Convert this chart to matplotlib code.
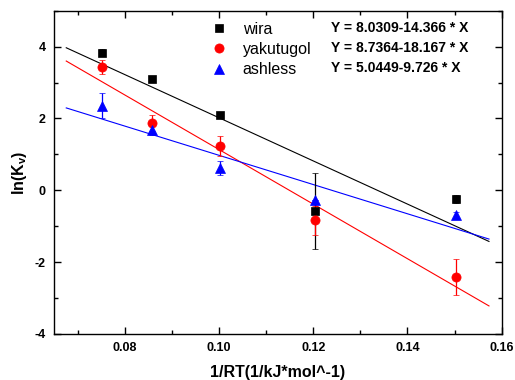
import matplotlib
matplotlib.use("Agg")
import matplotlib.pyplot as plt
from matplotlib.ticker import MultipleLocator
import numpy as np

plt.rcParams['font.family'] = ['Liberation Sans', 'DejaVu Sans']

# data
x_vals = [0.0752, 0.0859, 0.1002, 0.1203, 0.1503]
series_names = ["wira", "yakutugol", "ashless"]
wira_y = [3.83, 3.09, 2.09, -0.57, -0.24]
wira_err = [0.10, 0.0, 0.0, 1.05, 0.12]
yaku_y = [3.43, 1.87, 1.23, -0.84, -2.42]
yaku_err = [0.19, 0.22, 0.27, 0.41, 0.50]
ash_y = [2.36, 1.67, 0.62, -0.26, -0.69]
ash_err = [0.35, 0.13, 0.19, 0.0, 0.08]
fit_intercepts = [8.0309, 8.7364, 5.0449]
fit_slopes = [-60.1, -76.0, -40.7]
fit_x_range = [0.0676, 0.1573]
equations = ["Y = 8.0309-14.366 * X", "Y = 8.7364-18.167 * X", "Y = 5.0449-9.726 * X"]

colors = ["black", "red", "blue"]
markers = ["s", "o", "^"]
msizes = [5.8, 6.6, 6.8]

fig = plt.figure(figsize=(5.15, 3.8), dpi=100)
ax = fig.add_axes([54/515, 46/380, 447.7/515, 323.3/380])

ys = [wira_y, yaku_y, ash_y]
errs = [wira_err, yaku_err, ash_err]
handles = []
xf = np.array(fit_x_range)
for i in range(3):
    ax.plot(xf, fit_intercepts[i] + fit_slopes[i] * xf, color=colors[i], lw=0.8, zorder=2)
for i in range(3):
    h = ax.errorbar(x_vals, ys[i], yerr=errs[i], fmt=markers[i], color=colors[i],
                    ms=msizes[i], mec=colors[i], mew=0.5, ecolor=colors[i], elinewidth=0.9,
                    capsize=2.2, capthick=0.9, zorder=3, label=series_names[i])
    handles.append(h)

ax.set_xlim(0.065, 0.16)
ax.set_ylim(-4, 5)
ax.xaxis.set_minor_locator(MultipleLocator(0.01))
ax.yaxis.set_minor_locator(MultipleLocator(1))
ax.set_xticks([0.08, 0.10, 0.12, 0.14, 0.16])
ax.set_xticklabels(["0.08", "0.10", "0.12", "0.14", "0.16"])
ax.set_yticks([-4, -2, 0, 2, 4])
ax.set_yticklabels(["-4", "-2", "0", "2", "4"])
ax.tick_params(which='both', direction='in', top=True, right=True, width=1.0)
ax.tick_params(which='major', length=5, labelsize=9, pad=6)
ax.tick_params(which='minor', length=3)
for lab in ax.get_xticklabels() + ax.get_yticklabels():
    lab.set_fontweight('bold')
for s in ax.spines.values():
    s.set_linewidth(1.0)

ax.set_xlabel("1/RT(1/kJ*mol^-1)", fontsize=11.5, fontweight='bold', labelpad=8)
ax.set_ylabel(r"ln(K$_\mathregular{v}$)", fontsize=11.5, fontweight='bold', labelpad=4)

leg = ax.legend(handles=[h[0] for h in handles], labels=series_names, loc='upper left',
                bbox_to_anchor=(0.325, 1.0), frameon=False, fontsize=11.5,
                handlelength=1.0, handletextpad=1.0, labelspacing=0.32, borderaxespad=0.3)

eq_y = [0.947, 0.884, 0.822]
for i in range(3):
    ax.text(0.618, eq_y[i], equations[i], transform=ax.transAxes, fontsize=10,
            fontweight='bold', va='center', ha='left')

fig.savefig("out.png", dpi=100)
